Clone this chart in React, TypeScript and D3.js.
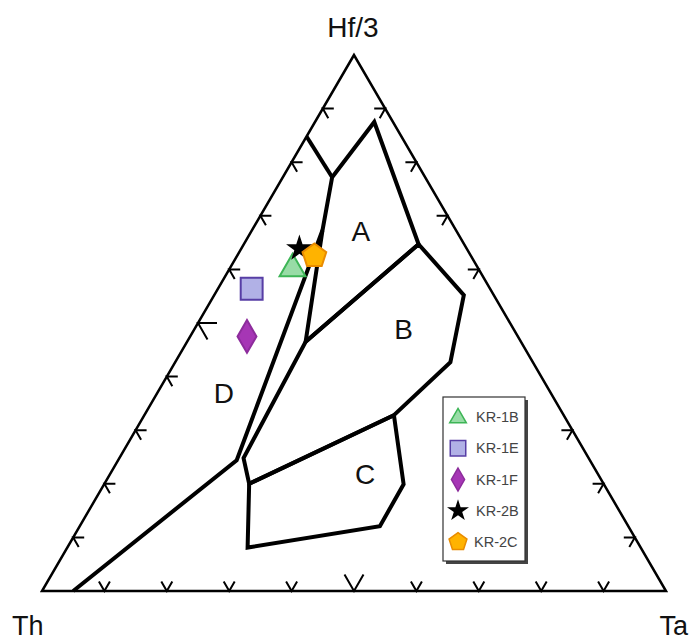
import React, { useEffect, useRef } from "react";
import * as d3 from "d3";

// ternary compositions are [Hf/3, Th, Ta] in percent
const cornerLabels = ["Hf/3", "Th", "Ta"];
const leftTicks = [10, 20, 30, 40, 50, 60, 70, 80, 90];
const rightTicks = [10, 20, 30, 60, 70, 80, 90];
const bottomTicks = [10, 20, 30, 40, 50, 60, 70, 80, 90];

const fieldA = [
  [77.2, 14.9, 7.9],
  [87.5, 3.0, 9.5],
  [64.7, 7.3, 28.0],
  [46.5, 34.5, 19.0],
  [67.3, 21.4, 11.3],
  [77.2, 14.9, 7.9],
];
const fieldB = [
  [64.7, 7.3, 28.0],
  [55.2, 4.8, 40.0],
  [42.7, 13.2, 44.1],
  [32.8, 27.2, 40.0],
  [20.0, 56.8, 23.2],
  [24.8, 55.3, 19.9],
  [46.5, 34.5, 19.0],
  [64.7, 7.3, 28.0],
];
const fieldC = [
  [20.0, 56.8, 23.2],
  [32.8, 27.2, 40.0],
  [19.9, 32.1, 48.0],
  [12.1, 39.8, 48.1],
  [8.1, 63.0, 28.9],
  [20.0, 56.8, 23.2],
];
const lineTop = [
  [84.8, 15.2, 0],
  [77.2, 14.9, 7.9],
];
const lineD = [
  [67.3, 21.4, 11.3],
  [24.4, 56.6, 19.0],
  [0, 95, 5],
];
const fieldNames = ["A", "B", "C", "D"];
const fieldLabelPos = [
  [67.0, 15.4, 17.6],
  [48.7, 17.7, 33.6],
  [21.8, 37.3, 40.9],
  [36.9, 52.4, 10.7],
];

const sampleNames = ["KR-1B", "KR-1E", "KR-1F", "KR-2B", "KR-2C"];
const sampleValues = [
  [60.5, 29.6, 9.9],
  [56.4, 38.2, 5.4],
  [47.5, 43.4, 9.1],
  [63.9, 26.8, 9.3],
  [62.5, 25.1, 12.4],
];

const pentagon = {
  draw(context, size) {
    const r = Math.sqrt(size / 2.3776);
    for (let i = 0; i < 5; i++) {
      const a = -Math.PI / 2 + (i * 2 * Math.PI) / 5;
      const x = r * Math.cos(a);
      const y = r * Math.sin(a);
      if (i === 0) context.moveTo(x, y);
      else context.lineTo(x, y);
    }
    context.closePath();
  },
};

const styles = [
  { type: d3.symbolTriangle, size: 290, legend: 120, fill: "#98dca6", stroke: "#3db556" },
  { type: d3.symbolSquare, size: 480, legend: 240, fill: "#b1b1e6", stroke: "#573ea5" },
  { type: d3.symbolDiamond, size: 310, legend: 150, fill: "#a636b5", stroke: "#8d2c9c" },
  { type: d3.symbolStar, size: 220, legend: 150, fill: "#000000", stroke: "#000000" },
  { type: pentagon, size: 370, legend: 210, fill: "#ffb300", stroke: "#e98c00" },
];

const width = 692;
const height = 641;
const font = "'Liberation Sans', Arial, Helvetica, sans-serif";

export default function App() {
  const svgRef = useRef(null);

  useEffect(() => {
    const svg = d3.select(svgRef.current);
    svg.selectAll("*").remove();

    const x = d3.scaleLinear().domain([0, 100]).range([42, 666]);
    const y = d3.scaleLinear().domain([0, 100]).range([591, 55]);
    const pos = ([hf, th, ta]) => [x(ta + hf / 2), y(hf)];

    const line = d3.line().x((d) => pos(d)[0]).y((d) => pos(d)[1]);

    // outer triangle
    svg
      .append("path")
      .attr("d", line([[100, 0, 0], [0, 100, 0], [0, 0, 100]]) + "Z")
      .attr("fill", "none")
      .attr("stroke", "#000")
      .attr("stroke-width", 2.5)
      .attr("stroke-linejoin", "miter");

    // ticks
    const tickLen = (v) => (v === 50 ? 19 : 11);
    const c60 = Math.cos(Math.PI / 3);
    const s60 = Math.sin(Math.PI / 3);
    const ticks = svg.append("g").attr("stroke", "#000").attr("stroke-width", 2).attr("fill", "none");

    leftTicks.forEach((v) => {
      const [px, py] = pos([v, 100 - v, 0]);
      const L = tickLen(v);
      ticks.append("path").attr("d", `M${px + L},${py}L${px},${py}L${px + L * c60},${py + L * s60}`);
    });
    rightTicks.forEach((v) => {
      const [px, py] = pos([v, 0, 100 - v]);
      const L = tickLen(v);
      ticks.append("path").attr("d", `M${px - L},${py}L${px},${py}L${px - L * c60},${py + L * s60}`);
    });
    bottomTicks.forEach((v) => {
      const [px, py] = pos([0, 100 - v, v]);
      const L = tickLen(v);
      ticks
        .append("path")
        .attr("d", `M${px - L * c60},${py - L * s60}L${px},${py}L${px + L * c60},${py - L * s60}`);
    });

    // field boundaries
    const fields = svg
      .append("g")
      .attr("fill", "none")
      .attr("stroke", "#000")
      .attr("stroke-width", 4)
      .attr("stroke-linejoin", "miter")
      .attr("stroke-miterlimit", 3);
    [fieldA, fieldB, fieldC, lineTop, lineD].forEach((d) => fields.append("path").attr("d", line(d)));

    // field labels
    fieldNames.forEach((name, i) => {
      const [px, py] = pos(fieldLabelPos[i]);
      svg
        .append("text")
        .attr("x", px)
        .attr("y", py)
        .attr("text-anchor", "middle")
        .attr("dominant-baseline", "central")
        .attr("font-family", font)
        .attr("font-size", 28)
        .attr("fill", "#111")
        .text(name);
    });

    // corner labels
    const corners = [
      { x: 353, y: 37, anchor: "middle", size: 28 },
      { x: 12, y: 635, anchor: "start", size: 27 },
      { x: 688, y: 635, anchor: "end", size: 27 },
    ];
    cornerLabels.forEach((t, i) => {
      svg
        .append("text")
        .attr("x", corners[i].x)
        .attr("y", corners[i].y)
        .attr("text-anchor", corners[i].anchor)
        .attr("font-family", font)
        .attr("font-size", corners[i].size)
        .attr("fill", "#111")
        .text(t);
    });

    // samples
    sampleValues.forEach((d, i) => {
      const [px, py] = pos(d);
      const st = styles[i];
      svg
        .append("path")
        .attr("d", d3.symbol().type(st.type).size(st.size)())
        .attr("transform", `translate(${px},${py + (i === 0 ? 2 : 0)})`)
        .attr("fill", st.fill)
        .attr("stroke", st.stroke)
        .attr("stroke-width", i === 3 ? 0 : 2);
    });

    // legend
    const lg = svg.append("g").attr("transform", "translate(443,397)");
    lg.append("rect").attr("x", 3).attr("y", 3).attr("width", 82).attr("height", 164).attr("fill", "#444");
    lg.append("rect")
      .attr("width", 82)
      .attr("height", 164)
      .attr("fill", "#fff")
      .attr("stroke", "#333")
      .attr("stroke-width", 1.2);
    const rowY = d3.scalePoint().domain(sampleNames).range([20, 145]);
    sampleNames.forEach((name, i) => {
      const st = styles[i];
      lg.append("path")
        .attr("d", d3.symbol().type(st.type).size(st.legend)())
        .attr("transform", `translate(15,${rowY(name) + (i === 0 ? 1 : 0)})`)
        .attr("fill", st.fill)
        .attr("stroke", st.stroke)
        .attr("stroke-width", i === 3 ? 0 : 1.5);
      lg.append("text")
        .attr("x", i === 4 ? 31 : 33)
        .attr("y", rowY(name))
        .attr("dominant-baseline", "central")
        .attr("font-family", font)
        .attr("font-size", 14.5)
        .attr("fill", "#444")
        .text(name);
    });
  }, []);

  return (
    <svg
      ref={svgRef}
      width={width}
      height={height}
      style={{ position: "absolute", left: 0, top: 0, background: "#fff" }}
    />
  );
}
